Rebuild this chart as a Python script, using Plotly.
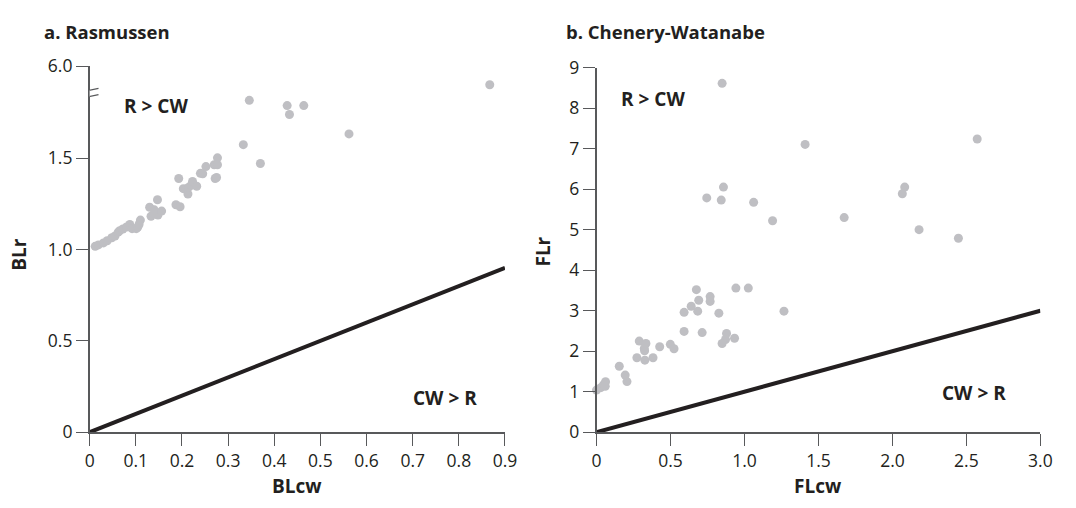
import plotly.graph_objects as go

# ---------------- data ----------------
# Panel a: Rasmussen (BLcw vs BLr)
ras_blcw = [0.012, 0.019, 0.030, 0.038, 0.048, 0.055, 0.062, 0.065, 0.072, 0.080,
            0.087, 0.092, 0.101, 0.104, 0.107, 0.110, 0.133, 0.148, 0.130, 0.140,
            0.156, 0.147, 0.187, 0.196, 0.193, 0.203, 0.213, 0.214, 0.220, 0.223,
            0.232, 0.240, 0.245, 0.252, 0.270, 0.277, 0.277, 0.272, 0.275, 0.333,
            0.370, 0.346, 0.428, 0.464, 0.433, 0.562, 0.867]
ras_blr = [1.018, 1.026, 1.037, 1.049, 1.065, 1.075, 1.096, 1.103, 1.113, 1.124,
           1.138, 1.115, 1.115, 1.122, 1.138, 1.162, 1.183, 1.190, 1.232, 1.218,
           1.211, 1.273, 1.246, 1.235, 1.390, 1.334, 1.305, 1.341, 1.353, 1.373,
           1.347, 1.418, 1.416, 1.455, 1.465, 1.465, 1.503, 1.390, 1.395, 1.575,
           1.472, 1.818, 1.789, 1.789, 1.740, 1.634, 5.25]

# Panel b: Chenery-Watanabe (FLcw vs FLr)
cw_flcw = [0.000, 0.029, 0.047, 0.061, 0.059, 0.154, 0.194, 0.206, 0.289, 0.273,
           0.334, 0.323, 0.325, 0.327, 0.382, 0.427, 0.499, 0.524, 0.592, 0.592,
           0.640, 0.675, 0.684, 0.691, 0.714, 0.768, 0.768, 0.827, 0.879, 0.872,
           0.849, 0.933, 0.942, 1.026, 1.267,
           0.849, 1.410, 2.573, 0.858, 0.745, 0.843, 1.062, 1.190, 1.674, 2.083,
           2.067, 2.180, 2.446]
cw_flr = [1.04, 1.10, 1.17, 1.245, 1.135, 1.63, 1.41, 1.25, 2.25, 1.84,
          2.19, 2.07, 2.01, 1.78, 1.84, 2.11, 2.17, 2.06, 2.96, 2.49,
          3.11, 3.52, 2.99, 3.26, 2.46, 3.35, 3.23, 2.94, 2.44, 2.29,
          2.19, 2.32, 3.56, 3.56, 2.99,
          8.615, 7.107, 7.240, 6.054, 5.787, 5.732, 5.677, 5.222, 5.30, 6.054,
          5.889, 5.002, 4.79]

# Equality lines
ras_eq = [0.0, 0.9]
cw_eq = [0.0, 3.0]

# Ticks
ras_xticks = [0, 0.1, 0.2, 0.3, 0.4, 0.5, 0.6, 0.7, 0.8, 0.9]
ras_xlabels = ["0", "0.1", "0.2", "0.3", "0.4", "0.5", "0.6", "0.7", "0.8", "0.9"]
ras_yticks = [0, 0.5, 1.0, 1.5, 6.0]
ras_ylabels = ["0", "0.5", "1.0", "1.5", "6.0"]
cw_xticks = [0, 0.5, 1.0, 1.5, 2.0, 2.5, 3.0]
cw_xlabels = ["0", "0.5", "1.0", "1.5", "2.0", "2.5", "3.0"]
cw_yticks = list(range(0, 10))
cw_ylabels = [str(v) for v in cw_yticks]

# ---------------- broken-axis mapping for panel a ----------------
BREAK_LOW = 1.86      # values up to here are drawn linearly
UPPER_LO, UPPER_HI = 5.0, 6.0
DISP_LO, DISP_HI = 1.87, 2.004


def ras_disp(v):
    if v <= BREAK_LOW:
        return v
    return DISP_LO + (v - UPPER_LO) * (DISP_HI - DISP_LO) / (UPPER_HI - UPPER_LO)


ras_y_disp = [ras_disp(v) for v in ras_blr]
ras_ytick_disp = [ras_disp(v) for v in ras_yticks]

DOT = "#bfbfc3"
AX = "#58595b"
LINE = "#231f20"
TXT = "#231f20"
FONT = "Open Sans"

fig = go.Figure()
fig.add_trace(go.Scatter(x=ras_blcw, y=ras_y_disp, mode="markers",
                         marker=dict(size=9, color=DOT), cliponaxis=False,
                         xaxis="x", yaxis="y", showlegend=False))
fig.add_trace(go.Scatter(x=ras_eq, y=ras_eq, mode="lines",
                         line=dict(color=LINE, width=4), cliponaxis=False,
                         xaxis="x", yaxis="y", showlegend=False))
fig.add_trace(go.Scatter(x=cw_flcw, y=cw_flr, mode="markers",
                         marker=dict(size=9, color=DOT), cliponaxis=False,
                         xaxis="x2", yaxis="y2", showlegend=False))
fig.add_trace(go.Scatter(x=cw_eq, y=cw_eq, mode="lines",
                         line=dict(color=LINE, width=4), cliponaxis=False,
                         xaxis="x2", yaxis="y2", showlegend=False))

W, H = 1076, 508
axis_common = dict(showline=True, linecolor=AX, linewidth=1.5, ticks="outside",
                   ticklen=12, tickwidth=1.3, tickcolor=AX, showgrid=False,
                   zeroline=False, tickfont=dict(family=FONT, size=17.5, color=TXT),
                   fixedrange=True)

fig.update_layout(
    width=W, height=H, margin=dict(l=0, r=0, t=0, b=0),
    paper_bgcolor="white", plot_bgcolor="white",
    xaxis=dict(domain=[86 / W, 508 / W], range=[0, 0.9], anchor="y",
               tickmode="array", tickvals=ras_xticks, ticktext=ras_xlabels, **axis_common),
    yaxis=dict(domain=[(H - 440) / H, (H - 56) / H], range=[0, DISP_HI], anchor="x",
               tickmode="array", tickvals=ras_ytick_disp, ticktext=ras_ylabels, **axis_common),
    xaxis2=dict(domain=[601 / W, 1052 / W], range=[0, 3.0], anchor="y2",
                tickmode="array", tickvals=cw_xticks, ticktext=cw_xlabels, **axis_common),
    yaxis2=dict(domain=[(H - 440) / H, (H - 57.5) / H], range=[0, 9], anchor="x2",
                tickmode="array", tickvals=cw_yticks, ticktext=cw_ylabels, **axis_common),
)

# axis break marks on panel a
fig.add_shape(type="path", xref="x", yref="y", layer="above",
              path="M -0.0213,1.862 L 0.0192,1.884 L 0.0192,1.849 L -0.0213,1.827 Z",
              fillcolor="white", line=dict(width=0))
fig.add_shape(type="line", xref="x", yref="y", layer="above",
              x0=-0.0213, y0=1.862, x1=0.0192, y1=1.884, line=dict(color=AX, width=1.3))
fig.add_shape(type="line", xref="x", yref="y", layer="above",
              x0=-0.0213, y0=1.827, x1=0.0192, y1=1.849, line=dict(color=AX, width=1.3))

bold = dict(family=FONT, size=19, color=TXT)
title_font = dict(family=FONT, size=18.5, color=TXT)
ann = [
    dict(text="<b>a. Rasmussen</b>", xref="paper", yref="paper", x=38 / W, y=(H - 19.5) / H,
         xanchor="left", yanchor="middle", font=title_font),
    dict(text="<b>b. Chenery-Watanabe</b>", xref="paper", yref="paper", x=568 / W, y=(H - 19) / H,
         xanchor="left", yanchor="middle", font=title_font),
    dict(text="<b>R > CW</b>", xref="x", yref="y", x=0.143, y=1.785, font=bold),
    dict(text="<b>CW > R</b>", xref="x", yref="y", x=0.771, y=0.188, font=bold),
    dict(text="<b>R > CW</b>", xref="x2", yref="y2", x=0.381, y=8.22, font=bold),
    dict(text="<b>CW > R</b>", xref="x2", yref="y2", x=2.55, y=0.96, font=bold),
    dict(text="<b>BLcw</b>", xref="paper", yref="paper", x=297 / W, y=(H - 496) / H,
         xanchor="center", yanchor="middle", font=bold),
    dict(text="<b>FLcw</b>", xref="paper", yref="paper", x=826 / W, y=(H - 496) / H,
         xanchor="center", yanchor="middle", font=bold),
    dict(text="<b>BLr</b>", xref="paper", yref="paper", x=14 / W, y=(H - 253) / H,
         xanchor="center", yanchor="middle", textangle=-90, font=bold),
    dict(text="<b>FLr</b>", xref="paper", yref="paper", x=547 / W, y=(H - 250) / H,
         xanchor="center", yanchor="middle", textangle=-90, font=bold),
]
for a in ann:
    a.setdefault("showarrow", False)
    fig.add_annotation(**a)

fig.write_html("out.html")
